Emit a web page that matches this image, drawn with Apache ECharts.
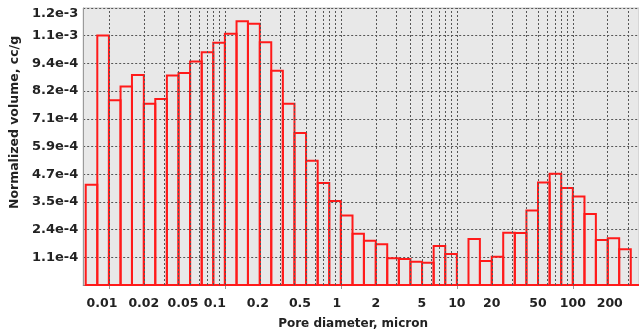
<!DOCTYPE html>
<html><head><meta charset="utf-8">
<script src="https://cdn.jsdelivr.net/npm/echarts@6/dist/echarts.min.js"></script>
<style>html,body{margin:0;padding:0;background:#fff}#c{width:639px;height:335px}</style>
</head><body><div id="c"></div>
<script>
// Bin edges of the pore-diameter histogram (micron), 10 bins per decade
const binEdges = [0.00631,0.00794,0.01,0.0126,0.0158,0.02,0.0251,0.0316,0.0398,0.0501,
  0.0631,0.0794,0.1,0.126,0.158,0.2,0.251,0.316,0.398,0.501,
  0.631,0.794,1,1.26,1.58,2,2.51,3.16,3.98,5.01,
  6.31,7.94,10,12.6,15.8,20,25.1,31.6,39.8,50.1,
  63.1,79.4,100,126,158,200,251,316,398];
// Normalized volume (cc/g) per bin
const volumes = [4.27e-4,1.063e-3,7.87e-4,8.46e-4,8.95e-4,7.72e-4,7.92e-4,8.92e-4,9.03e-4,9.52e-4,
  9.92e-4,1.032e-3,1.07e-3,1.124e-3,1.113e-3,1.034e-3,9.13e-4,7.72e-4,6.47e-4,5.29e-4,
  4.34e-4,3.58e-4,2.96e-4,2.18e-4,1.88e-4,1.74e-4,1.14e-4,1.11e-4,9.9e-5,9.5e-5,
  1.66e-4,1.32e-4,0,1.96e-4,1.02e-4,1.2e-4,2.23e-4,2.21e-4,3.17e-4,4.37e-4,
  4.74e-4,4.13e-4,3.77e-4,3.02e-4,1.92e-4,1.99e-4,1.52e-4,0];
const xLabelValues = [0.01,0.02,0.05,0.1,0.2,0.5,1,2,5,10,20,50,100,200];
const xMajorTicks = [0.01,0.1,1,10,100];
const xGridValues = [0.006,0.007,0.008,0.009,0.01,0.02,0.03,0.04,0.05,0.06,0.07,0.08,0.09,
  0.1,0.2,0.3,0.4,0.5,0.6,0.7,0.8,0.9,1,2,3,4,5,6,7,8,9,
  10,20,30,40,50,60,70,80,90,100,200,300];
const yStep = 1.18e-4;
const yTickLabels = ['','1.1e-4','2.4e-4','3.5e-4','4.7e-4','5.9e-4','7.1e-4','8.2e-4','9.4e-4','1.1e-3','1.2e-3'];

const binData = volumes.map((v, i) => [binEdges[i], binEdges[i + 1], v]);
const FONT = 'DejaVu Sans';
// leftward nudges of some x labels, as placed in the original figure (px)
const labelNudge = {'0.01': 7, '0.05': 7, '0.1': 10, '0.2': 2, '0.5': 6, '1': 4, '200': -2};
const labelStyle = {fontFamily: FONT, fontWeight: 'bold', fontSize: 12.5, color: '#222'};
const rich = {};
Object.keys(labelNudge).forEach((k, i) => {
  const n = labelNudge[k];
  rich['n' + i] = Object.assign({}, labelStyle, {padding: n > 0 ? [0, 2 * n, 0, 0] : [0, 0, 0, -2 * n]});
});

const chart = echarts.init(document.getElementById('c'), null, {renderer: 'canvas'});
chart.setOption({
  animation: false,
  backgroundColor: '#ffffff',
  grid: {left: 83, top: 8, right: 0, bottom: 50, show: true,
    backgroundColor: '#e8e8e8', borderColor: '#c4c4c4', borderWidth: 1},
  xAxis: {
    type: 'log', min: 0.006, max: 372,
    name: 'Pore diameter, micron', nameLocation: 'middle', nameGap: 33,
    nameTextStyle: {fontFamily: FONT, fontWeight: 'bold', fontSize: 12, color: '#222', padding: [0, 16, 0, 0]},
    axisLine: {show: true, lineStyle: {color: '#8a8a8a', width: 1}},
    axisTick: {show: true, customValues: xMajorTicks, length: 4, lineStyle: {color: '#999'}},
    axisLabel: Object.assign({customValues: xLabelValues, margin: 12, rich: rich,
      formatter: v => {
        const s = String(+v.toPrecision(3));
        const keys = Object.keys(labelNudge);
        const i = keys.indexOf(s);
        return i >= 0 ? '{n' + i + '|' + s + '}' : s;
      }}, labelStyle),
    splitLine: {show: false}
  },
  yAxis: {
    type: 'value', min: 0, max: 1.18e-3, interval: yStep,
    name: 'Normalized volume, cc/g', nameLocation: 'middle', nameGap: 60, nameRotate: 90,
    nameTextStyle: {fontFamily: FONT, fontWeight: 'bold', fontSize: 12.5, color: '#222', padding: [0, 0, 0, 48]},
    axisLine: {show: true, lineStyle: {color: '#9a9a9a', width: 1}},
    axisTick: {show: false},
    axisLabel: {margin: 5, fontFamily: FONT, fontWeight: 'bold', fontSize: 13, color: '#222',
      formatter: v => {
        const i = Math.round(v / yStep);
        const s = yTickLabels[i] || '';
        return i === yTickLabels.length - 1 ? '{top|' + s + '}' : s;
      },
      rich: {top: {fontFamily: FONT, fontWeight: 'bold', fontSize: 13, color: '#222', padding: [11, 0, 0, 0]}}
    },
    splitLine: {show: true, lineStyle: {color: '#555', type: [2, 2], width: 1}}
  },
  series: [
    {
      type: 'line', data: [], z: 1, silent: true,
      markLine: {silent: true, symbol: ['none', 'none'], label: {show: false}, animation: false,
        lineStyle: {color: '#555', type: [2, 2], width: 1},
        emphasis: {disabled: true},
        data: xGridValues.map(v => ({xAxis: v}))}
    },
    {
      type: 'custom', z: 3, silent: true,
      encode: {x: [0, 1], y: 2},
      data: binData,
      renderItem: (params, api) => {
        const p0 = api.coord([api.value(0), api.value(2)]);
        const p1 = api.coord([api.value(1), 0]);
        const cs = params.coordSys;
        const rect = echarts.graphic.clipRectByRect(
          {x: p0[0], y: p0[1], width: p1[0] - p0[0], height: p1[1] - p0[1]},
          {x: cs.x, y: cs.y - 2, width: cs.width, height: cs.height + 4});
        if (!rect) return null;
        return {type: 'rect', shape: rect,
          style: {fill: 'none', stroke: '#ff1a1a', lineWidth: 2}};
      }
    }
  ]
});
</script></body></html>
